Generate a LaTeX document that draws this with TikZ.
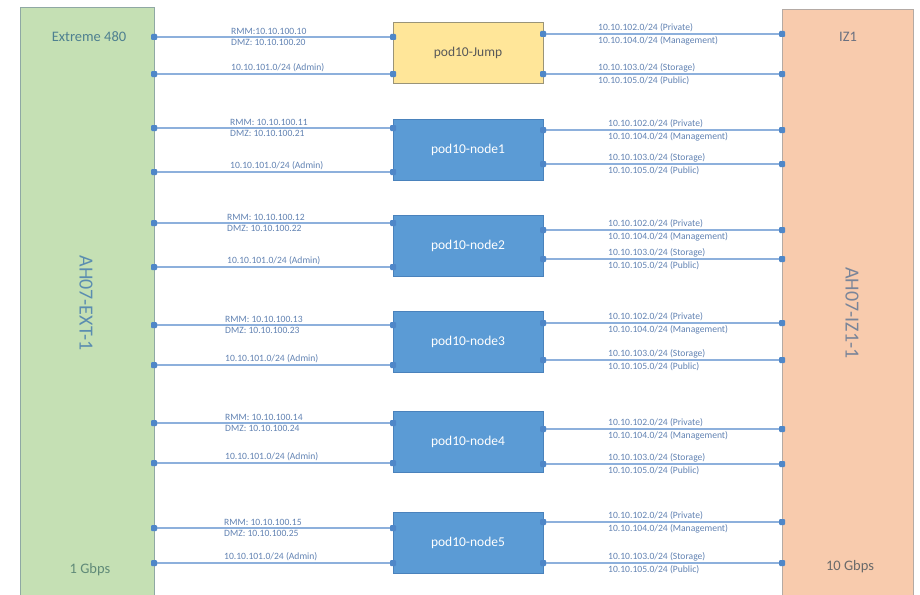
\documentclass[tikz,border=0pt]{standalone}
\usepackage{fontspec}
\setmainfont{Carlito}
\usetikzlibrary{calc}
\definecolor{extfill}{HTML}{C5E0B4}
\definecolor{extdraw}{HTML}{8FA8A4}
\definecolor{izfill}{HTML}{F8CBAD}
\definecolor{izdraw}{HTML}{B4AAA4}
\definecolor{jumpfill}{HTML}{FFE699}
\definecolor{jumpdraw}{HTML}{9A9478}
\definecolor{nodefill}{HTML}{5B9BD5}
\definecolor{nodedraw}{HTML}{4A82BC}
\definecolor{linkcol}{HTML}{8DB0DC}
\definecolor{dotcol}{HTML}{4F87C8}
\definecolor{labcol}{HTML}{6283B3}
\definecolor{extname}{HTML}{4E8090}
\definecolor{extspeed}{HTML}{608A78}
\definecolor{extid}{HTML}{5B8DB0}
\definecolor{izname}{HTML}{6A7080}
\definecolor{izspeed}{HTML}{6A6A6A}
\definecolor{izid}{HTML}{7A8599}
\tikzset{
  x=1pt, y=-1pt,
  bigbox/.style={draw, line width=1pt, rectangle, inner sep=0pt},
  podbox/.style={draw=nodedraw, fill=nodefill, line width=0.8pt, minimum width=150pt, minimum height=61pt, inner sep=0pt, text=white, font=\fontsize{13.5}{15}\selectfont},
  jumpbox/.style={podbox, draw=jumpdraw, fill=jumpfill, text=black!65},
  link/.style={draw=linkcol, line width=1.1pt},
  lab/.style={text=labcol, font=\fontsize{9.6}{10}\selectfont, inner sep=0pt},
  boxtitle/.style={font=\fontsize{14.5}{16}\selectfont},
  vtitle/.style={font=\fontsize{20}{22}\selectfont, rotate=-90},
}
\begin{document}
\begin{tikzpicture}
\useasboundingbox[fill=white] (0,0) rectangle (920,594);
% side boxes
\node[bigbox, draw=extdraw, fill=extfill, minimum width=134pt, minimum height=592pt] (ext) at (87,304) {};
\node[bigbox, draw=izdraw, fill=izfill, minimum width=131pt, minimum height=590pt] (iz) at (847.5,305) {};
\node[boxtitle, text=extname] (extnm) at (89,37) {Extreme 480};
\node[boxtitle, text=extspeed] (extsp) at (90,570) {1 Gbps};
\node[vtitle, text=extid] (extidn) at (86,303) {AH07-EXT-1};
\node[boxtitle, text=izname] (iznm) at (848,37) {IZ1};
\node[boxtitle, text=izspeed] (izsp) at (850,567) {10 Gbps};
\node[vtitle, text=izid] (izidn) at (852,313) {AH07-IZ1-1};
% rows: name, centre y, left y1, left y2, right y1, right y2, rmm, dmz, style, text, left label x, right label x
\foreach \nm/\cy/\la/\lb/\ra/\rb/\rmm/\dmz/\st/\txt/\lx/\rx in {
  j/52.5/37/74/34/74/{RMM:10.10.100.10}/{DMZ: 10.10.100.20}/jumpbox/pod10-Jump/231/598,
  a/150/128/172/130/164/{RMM: 10.10.100.11}/{DMZ: 10.10.100.21}/podbox/pod10-node1/230/608,
  b/245.5/223/267/230/259/{RMM: 10.10.100.12}/{DMZ: 10.10.100.22}/podbox/pod10-node2/227/608,
  c/341.5/325/365/323/360/{RMM: 10.10.100.13}/{DMZ: 10.10.100.23}/podbox/pod10-node3/225/608,
  d/441.5/423/463/429/464/{RMM: 10.10.100.14}/{DMZ: 10.10.100.24}/podbox/pod10-node4/225/608,
  e/542.5/528/563/522/563/{RMM: 10.10.100.15}/{DMZ: 10.10.100.25}/podbox/pod10-node5/224/608}{
  \node[\st] (pod\nm) at (468,\cy) {\txt};
  \coordinate (el1\nm) at (154,\la);
  \coordinate (el2\nm) at (154,\lb);
  \coordinate (pl1\nm) at (393,\la);
  \coordinate (pl2\nm) at (393,\lb);
  \coordinate (pr1\nm) at (543,\ra);
  \coordinate (pr2\nm) at (543,\rb);
  \coordinate (ir1\nm) at (782,\ra);
  \coordinate (ir2\nm) at (782,\rb);
  \draw[link] (el1\nm) -- (pl1\nm);
  \draw[link] (el2\nm) -- (pl2\nm);
  \draw[link] (pr1\nm) -- (ir1\nm);
  \draw[link] (pr2\nm) -- (ir2\nm);
  \foreach \p in {el1,el2,pl1,pl2,pr1,pr2,ir1,ir2}{
    \fill[dotcol, rounded corners=1pt] ($(\p\nm)+(-3,-3)$) rectangle ($(\p\nm)+(3,3)$);
  }
  \node[lab, anchor=south west] (rmm\nm) at (\lx,\la-2) {\rmm};
  \node[lab, anchor=north west] (dmz\nm) at (\lx,\la+2) {\dmz};
  \node[lab, anchor=south west] (adm\nm) at (\lx,\lb-2) {10.10.101.0/24 (Admin)};
  \node[lab, anchor=south west] (prv\nm) at (\rx,\ra-2) {10.10.102.0/24 (Private)};
  \node[lab, anchor=north west] (mgt\nm) at (\rx,\ra+2) {10.10.104.0/24 (Management)};
  \node[lab, anchor=south west] (sto\nm) at (\rx,\rb-2) {10.10.103.0/24 (Storage)};
  \node[lab, anchor=north west] (pub\nm) at (\rx,\rb+2) {10.10.105.0/24 (Public)};
}
\end{tikzpicture}
\end{document}
